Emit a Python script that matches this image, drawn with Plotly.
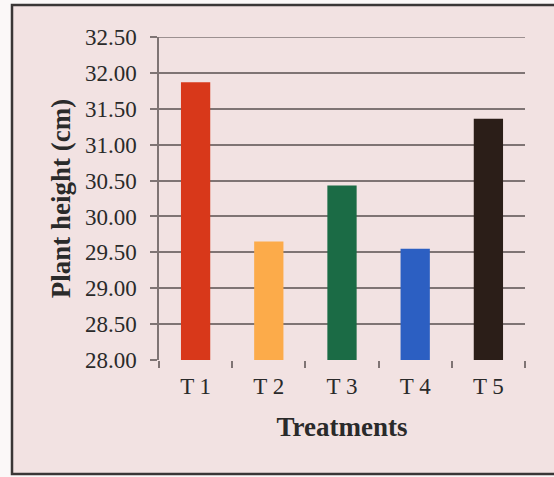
import plotly.graph_objects as go

treatments = ["T 1", "T 2", "T 3", "T 4", "T 5"]
plant_height = [31.87, 29.65, 30.43, 29.55, 31.36]
bar_colors = ["#d8381a", "#fcab4a", "#1b6b45", "#2c5fc2", "#2b1e18"]
y_ticks = [28.0, 28.5, 29.0, 29.5, 30.0, 30.5, 31.0, 31.5, 32.0, 32.5]

W, H = 554, 477
L, R, T, B = 159, 29, 37, 117
pw, ph = W - L - R, H - T - B

def px2x(px):
    return (px - L) / pw

def px2y(py):
    return (H - B - py) / ph

fig = go.Figure(go.Bar(x=treatments, y=plant_height, marker_color=bar_colors,
                       marker_line_width=0, width=0.4))

font_family = "Liberation Serif"
grid_col = "#7f7474"

fig.update_layout(
    width=W, height=H,
    margin=dict(l=L, r=R, t=T, b=B, pad=0),
    paper_bgcolor="#fbf8f8",
    plot_bgcolor="rgba(0,0,0,0)",
    showlegend=False,
    font=dict(family=font_family, color="#2a2a2a"),
    shapes=[
        dict(type="rect", xref="paper", yref="paper",
             x0=px2x(12), x1=px2x(556), y0=px2y(474), y1=px2y(5),
             fillcolor="#f2e2e2", line=dict(color="#3a3636", width=2.5),
             layer="below"),
        dict(type="line", xref="paper", yref="y", x0=0, x1=1,
             y0=y_ticks[-1], y1=y_ticks[-1],
             line=dict(color=grid_col, width=1.5), layer="below"),
    ],
    xaxis=dict(
        type="category", tickson="boundaries", ticks="outside", ticklen=7,
        tickcolor=grid_col, tickwidth=1.5, showgrid=False,
        showline=False, tickfont=dict(size=23, family=font_family),
        ticklabelstandoff=10,
        title=dict(text="<b>Treatments</b>", font=dict(size=27, family=font_family), standoff=19),
    ),
    yaxis=dict(
        range=[28, 32.5], tickvals=y_ticks, tickformat=".2f",
        ticks="outside", ticklen=7, tickcolor=grid_col, tickwidth=1.5,
        showgrid=True, gridcolor=grid_col, gridwidth=1.5,
        showline=True, linecolor=grid_col, linewidth=1.5,
        zeroline=False, ticklabelstandoff=9,
        tickfont=dict(size=23, family=font_family),
        title=dict(text="<b>Plant height (cm)</b>", font=dict(size=27, family=font_family), standoff=6),
    ),
)

fig.write_html("out.html")
